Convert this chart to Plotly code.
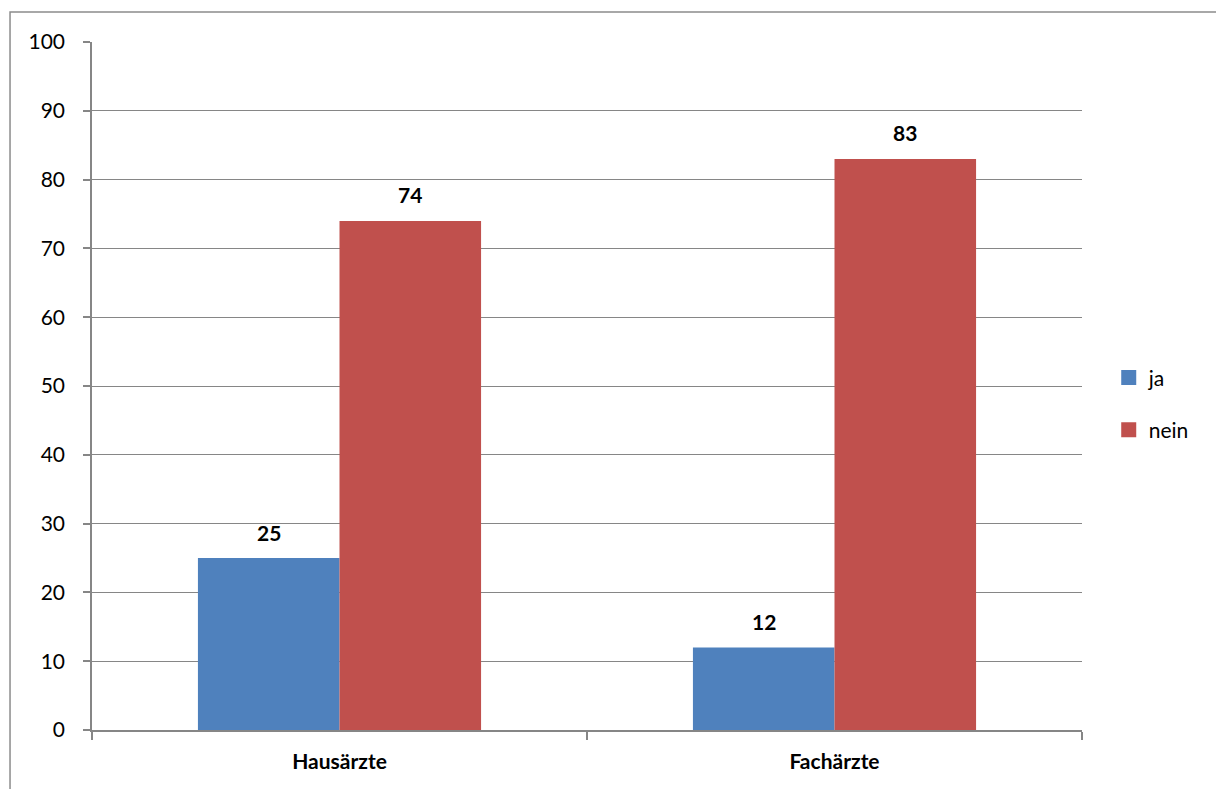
import plotly.graph_objects as go

categories = ["Hausärzte", "Fachärzte"]
series_names = ["ja", "nein"]
ja_values = [25, 12]
nein_values = [74, 83]
y_ticks = list(range(0, 101, 10))

colors = {"ja": "#4F81BD", "nein": "#C0504D"}
font_family = "Lato, Calibri, 'Noto Sans', sans-serif"
grid_color = "#868686"
font_size = 21

fig = go.Figure()
values_by_series = {"ja": ja_values, "nein": nein_values}

for name in series_names:
    fig.add_trace(go.Bar(
        x=categories, y=values_by_series[name], name=name,
        marker=dict(color=colors[name], line=dict(width=0)),
        showlegend=False,
    ))
    # legend entry with a larger square swatch
    fig.add_trace(go.Scatter(
        x=[None], y=[None], mode="markers", name=name,
        marker=dict(symbol="square", size=15, color=colors[name]),
        legendgroup=name, showlegend=True,
    ))

# value labels above each bar
bar_half = 70.5
for i, name in enumerate(series_names):
    shift = -bar_half if i == 0 else bar_half
    for cat, val in zip(categories, values_by_series[name]):
        fig.add_annotation(
            x=cat, y=val, xref="x", yref="y", text=f"<b>{val}</b>",
            showarrow=False, xshift=shift, yshift=26,
            font=dict(family=font_family, size=font_size, color="black"),
        )

# outer chart frame (extends past the visible page on right and bottom)
fig.add_shape(
    type="rect", xref="paper", yref="paper",
    x0=-0.0828, x1=1.16, y0=-0.11, y1=1.0436,
    line=dict(color="#8C8C8C", width=1.5), fillcolor="rgba(0,0,0,0)",
    layer="below",
)

fig.update_layout(
    width=1216, height=789,
    margin=dict(l=92, r=134, t=42, b=59),
    paper_bgcolor="white", plot_bgcolor="white",
    barmode="group", bargap=0.428, bargroupgap=0,
    font=dict(family=font_family, size=font_size, color="black"),
    legend=dict(
        x=1.027, y=0.474, xanchor="left", yanchor="middle",
        font=dict(family=font_family, size=font_size, color="black"),
        tracegroupgap=22, bgcolor="rgba(0,0,0,0)",
    ),
    xaxis=dict(
        showgrid=False, showline=True, linecolor=grid_color, linewidth=1.5,
        ticks="outside", tickson="boundaries", ticklen=8, tickcolor=grid_color,
        tickwidth=1.5, tickfont=dict(family=font_family, size=font_size, color="black", weight="bold"),
        ticklabelstandoff=12,
    ),
    yaxis=dict(
        range=[0, 100], tickvals=y_ticks, showgrid=True, gridcolor=grid_color,
        gridwidth=1, showline=True, linecolor=grid_color, linewidth=1.5,
        ticks="outside", ticklen=7, tickcolor=grid_color, tickwidth=1.5,
        tickfont=dict(family=font_family, size=font_size, color="black"),
        ticklabelstandoff=14, zeroline=False,
    ),
)

fig.write_html("out.html")
